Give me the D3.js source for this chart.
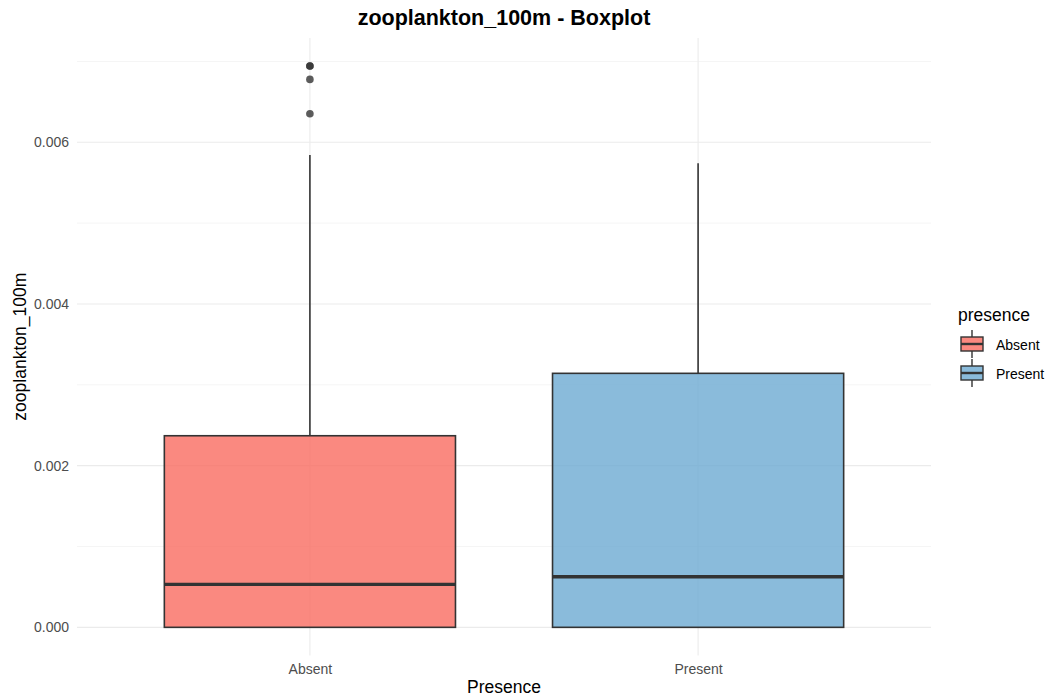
<!DOCTYPE html>
<html>
<head>
<meta charset="utf-8">
<script src="https://cdn.jsdelivr.net/npm/d3@7"></script>
<style>
  body { margin: 0; background: #fff; }
  svg text { font-family: "Liberation Sans", Arial, Helvetica, sans-serif; }
</style>
</head>
<body>
<svg id="chart" width="1051" height="700"></svg>
<script>
// Groups and their summary statistics (zooplankton_100m)
const groups = ["Absent", "Present"];
const lowerWhisker = [0, 0];
const q1 = [0, 0];
const median = [0.000532, 0.000626];
const q3 = [0.00237, 0.003142];
const upperWhisker = [0.005843, 0.005741];
const outliersAbsent = [0.006943, 0.006943, 0.006778, 0.006354];
const outliersPresent = [];
const fillColors = ["#F96B60", "#6DAAD2"];
const yTicks = [0, 0.002, 0.004, 0.006];
const yMinor = [0.001, 0.003, 0.005, 0.007];

const outliers = [outliersAbsent, outliersPresent];

const svg = d3.select("#chart");
const panel = { left: 77, right: 931, top: 38, bottom: 655.4 };

// Continuous y scale with 5% expansion on the data range
const allVals = [...lowerWhisker, ...upperWhisker, ...outliersAbsent, ...outliersPresent];
const yMin = d3.min(allVals), yMax = d3.max(allVals);
const pad = (yMax - yMin) * 0.05;
const y = d3.scaleLinear().domain([yMin - pad, yMax + pad]).range([panel.bottom, panel.top]);

// Discrete x scale: 0.6 units of expansion on each side
const xCont = d3.scaleLinear().domain([0.4, groups.length + 0.6]).range([panel.left, panel.right]);
const x = g => xCont(groups.indexOf(g) + 1);
const boxHalf = (xCont(1.375) - xCont(1));

// Grid lines
const grid = svg.append("g");
grid.selectAll("line.minor").data(yMinor).join("line")
  .attr("x1", panel.left).attr("x2", panel.right)
  .attr("y1", d => y(d)).attr("y2", d => y(d))
  .attr("stroke", "#f2f2f2").attr("stroke-width", 0.8);
grid.selectAll("line.major").data(yTicks).join("line")
  .attr("x1", panel.left).attr("x2", panel.right)
  .attr("y1", d => y(d)).attr("y2", d => y(d))
  .attr("stroke", "#ebebeb").attr("stroke-width", 1.1);
grid.selectAll("line.vx").data(groups).join("line")
  .attr("x1", d => x(d)).attr("x2", d => x(d))
  .attr("y1", panel.top).attr("y2", panel.bottom)
  .attr("stroke", "#ebebeb").attr("stroke-width", 1.1);

// Axes (labels only, no axis lines or ticks)
const yAxis = svg.append("g").attr("transform", `translate(${panel.left - 5},0)`)
  .call(d3.axisLeft(y).tickValues(yTicks).tickFormat(d3.format(".3f")).tickSize(0).tickPadding(3));
yAxis.select(".domain").remove();
yAxis.selectAll("text").attr("fill", "#4d4d4d").style("font-size", "14px")
  .style("font-family", '"Liberation Sans", Arial, sans-serif');

const xAxis = svg.append("g").attr("transform", `translate(0,${panel.bottom + 6})`)
  .call(d3.axisBottom(d3.scalePoint().domain(groups).range([x(groups[0]), x(groups[groups.length - 1])]))
    .tickSize(0).tickPadding(3));
xAxis.select(".domain").remove();
xAxis.selectAll("text").attr("fill", "#4d4d4d").style("font-size", "14px")
  .style("font-family", '"Liberation Sans", Arial, sans-serif');

// Boxplots
const boxes = svg.append("g");
groups.forEach((g, i) => {
  const cx = x(g);
  const b = boxes.append("g");
  b.append("line")
    .attr("x1", cx).attr("x2", cx)
    .attr("y1", y(q3[i])).attr("y2", y(upperWhisker[i]))
    .attr("stroke", "#333").attr("stroke-width", 1.6);
  b.append("line")
    .attr("x1", cx).attr("x2", cx)
    .attr("y1", y(q1[i])).attr("y2", y(lowerWhisker[i]))
    .attr("stroke", "#333").attr("stroke-width", 1.6);
  b.append("rect")
    .attr("x", cx - boxHalf).attr("width", 2 * boxHalf)
    .attr("y", y(q3[i])).attr("height", y(q1[i]) - y(q3[i]))
    .attr("fill", fillColors[i]).attr("fill-opacity", 0.8)
    .attr("stroke", "#333").attr("stroke-width", 1.6);
  b.append("line")
    .attr("x1", cx - boxHalf).attr("x2", cx + boxHalf)
    .attr("y1", y(median[i])).attr("y2", y(median[i]))
    .attr("stroke", "#333").attr("stroke-width", 3.4);
  b.selectAll("circle").data(outliers[i]).join("circle")
    .attr("cx", cx).attr("cy", d => y(d)).attr("r", 3.8)
    .attr("fill", "#333").attr("fill-opacity", 0.8);
});

// Title and axis titles
svg.append("text").attr("x", (panel.left + panel.right) / 2).attr("y", 25)
  .attr("text-anchor", "middle").style("font-size", "21.5px").style("font-weight", "bold")
  .attr("fill", "#000").text("zooplankton_100m - Boxplot");
svg.append("text").attr("x", (panel.left + panel.right) / 2).attr("y", 693)
  .attr("text-anchor", "middle").style("font-size", "17.5px").attr("fill", "#000").text("Presence");
svg.append("text").attr("transform", `translate(26,${(panel.top + panel.bottom) / 2}) rotate(-90)`)
  .attr("text-anchor", "middle").style("font-size", "17.5px").attr("fill", "#000").text("zooplankton_100m");

// Legend
const legend = svg.append("g").attr("transform", "translate(958,0)");
legend.append("text").attr("x", 0).attr("y", 321).style("font-size", "17.5px").attr("fill", "#000").text("presence");
groups.forEach((g, i) => {
  const cy = 344 + i * 29;
  const k = legend.append("g");
  k.append("line").attr("x1", 14).attr("x2", 14).attr("y1", cy - 14).attr("y2", cy + 14)
    .attr("stroke", "#333").attr("stroke-width", 1.4);
  k.append("rect").attr("x", 3).attr("y", cy - 7).attr("width", 22).attr("height", 14)
    .attr("fill", "#fff").attr("stroke", "none");
  k.append("rect").attr("x", 3).attr("y", cy - 7).attr("width", 22).attr("height", 14)
    .attr("fill", fillColors[i]).attr("fill-opacity", 0.8)
    .attr("stroke", "#333").attr("stroke-width", 1.4);
  k.append("line").attr("x1", 3).attr("x2", 25).attr("y1", cy).attr("y2", cy)
    .attr("stroke", "#333").attr("stroke-width", 2.4);
  k.append("text").attr("x", 38).attr("y", cy + 6).style("font-size", "14px").attr("fill", "#000").text(g);
});
</script>
</body>
</html>
